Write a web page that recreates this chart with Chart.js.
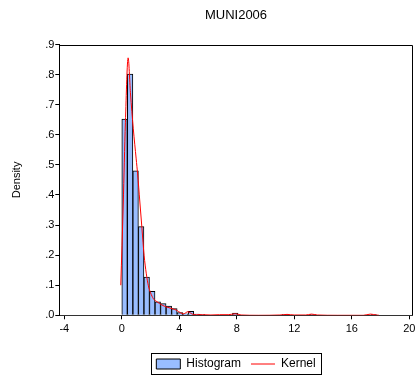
<!DOCTYPE html>
<html><head><meta charset="utf-8">
<script src="https://cdn.jsdelivr.net/npm/chart.js@4/dist/chart.umd.min.js"></script>
<style>html,body{margin:0;padding:0;background:#fff;overflow:hidden}#wrap{width:415px;height:381px;position:relative}</style>
</head><body><div id="wrap"><canvas id="c"></canvas></div>
<script>
const chartTitle = 'MUNI2006';
const yTitle = 'Density';
const seriesNames = ['Histogram', 'Kernel'];
// histogram: lower bin edges and densities
const binWidth = 0.385;
const binStarts = [0, 0.385, 0.77, 1.155, 1.54, 1.925, 2.31, 2.695, 3.08, 3.465, 3.85, 4.235, 4.62, 5.005, 5.39, 7.7, 11.165, 13.09, 17.325];
const binDensity = [0.652, 0.802, 0.48, 0.295, 0.127, 0.08, 0.045, 0.039, 0.031, 0.022, 0.009, 0.005, 0.013, 0.004, 0.002, 0.007, 0.002, 0.002, 0.002];
// kernel density curve
const kernelX = [-0.07, 0.1, 0.25, 0.44, 0.6, 0.8, 1.0, 1.1, 1.25, 1.4, 1.55, 1.7, 1.85, 2.0, 2.2, 2.45, 2.8, 3.1, 3.5, 3.8, 4.1, 4.3, 4.6, 4.9, 5.2, 5.6, 6.2, 6.8, 7.4, 7.9, 8.3, 9.5, 11.0, 11.5, 12.0, 12.8, 13.2, 13.6, 15.0, 16.8, 17.3, 17.7, 17.9];
const kernelY = [0.10, 0.37, 0.64, 0.856, 0.74, 0.62, 0.52, 0.47, 0.38, 0.29, 0.2, 0.14, 0.098, 0.075, 0.055, 0.045, 0.034, 0.028, 0.022, 0.017, 0.008, 0.005, 0.012, 0.004, 0.002, 0.002, 0.001, 0.002, 0.002, 0.005, 0.001, 0.0, 0.001, 0.003, 0.001, 0.001, 0.004, 0.001, 0.0, 0.0, 0.004, 0.001, 0.0];
const xTicks = [-4, 0, 4, 8, 12, 16, 20];
const yTicks = [0, 0.1, 0.2, 0.3, 0.4, 0.5, 0.6, 0.7, 0.8, 0.9];
const yTickLabels = ['.0', '.1', '.2', '.3', '.4', '.5', '.6', '.7', '.8', '.9'];

const FONT = 'Arial, "Liberation Sans", sans-serif';
const barFill = 'rgb(153,189,255)';

const framePlugin = {
  id: 'frame',
  afterDraw(chart) {
    const {ctx, chartArea: a} = chart;
    ctx.save();
    ctx.strokeStyle = '#000';
    ctx.lineWidth = 1;
    ctx.beginPath();
    ctx.moveTo(Math.round(a.left) + 0.5, Math.round(a.top) + 0.5);
    ctx.lineTo(Math.round(a.right) - 0.5, Math.round(a.top) + 0.5);
    ctx.lineTo(Math.round(a.right) - 0.5, Math.round(a.bottom));
    ctx.stroke();
    const lg = chart.legend;
    if (lg && lg.legendHitBoxes && lg.legendHitBoxes.length) {
      const hb = lg.legendHitBoxes;
      const l = hb[0].left - 5, r = hb[hb.length - 1].left + hb[hb.length - 1].width + 6;
      const t = hb[0].top - 5, b = hb[0].top + hb[0].height + 4;
      ctx.strokeStyle = '#000';
      ctx.strokeRect(Math.round(l) + 0.5, Math.round(t) + 0.5, Math.round(r - l), Math.round(b - t));
    }
    ctx.restore();
  }
};

new Chart(document.getElementById('c'), {
  type: 'bar',
  data: {
    datasets: [
      {
        type: 'line',
        label: seriesNames[1],
        data: kernelX.map((x, i) => ({x, y: kernelY[i]})),
        borderColor: '#ff0000',
        borderWidth: 1,
        pointRadius: 0,
        cubicInterpolationMode: 'monotone',
        fill: false,
        order: 0
      },
      {
        type: 'bar',
        label: seriesNames[0],
        data: binStarts.map((s, i) => ({x: s + binWidth / 2, y: binDensity[i]})),
        backgroundColor: barFill,
        borderColor: '#000',
        borderWidth: 1,
        borderSkipped: 'start',
        barPercentage: 1,
        categoryPercentage: 1,
        order: 1
      }
    ]
  },
  options: {
    responsive: true,
    maintainAspectRatio: false,
    animation: false,
    events: [],
    layout: {padding: {left: 0, right: 2.3, top: 0, bottom: 1}},
    plugins: {
      tooltip: {enabled: false},
      title: {
        display: true, text: chartTitle, fullSize: false, color: '#000',
        font: {family: FONT, size: 13, weight: 'normal'},
        padding: {top: 8, bottom: 21}
      },
      legend: {
        display: true, position: 'bottom', fullSize: false, align: 'center',
        labels: {
          color: '#000', font: {family: FONT, size: 12}, padding: 10,
          usePointStyle: true, pointStyleWidth: 24, boxHeight: 10,
          generateLabels: () => [
            {text: seriesNames[0], fillStyle: barFill, strokeStyle: '#000', lineWidth: 1, pointStyle: 'rect', hidden: false, datasetIndex: 1, fontColor: '#000'},
            {text: seriesNames[1], fillStyle: '#ff0000', strokeStyle: '#ff0000', lineWidth: 1, pointStyle: 'line', hidden: false, datasetIndex: 0, fontColor: '#000'}
          ]
        }
      }
    },
    scales: {
      x: {
        type: 'linear', min: -4.348, max: 20.237, offset: false,
        grid: {display: true, drawOnChartArea: false, drawTicks: true, tickLength: 4, color: '#000', offset: false},
        border: {display: true, color: '#333', width: 1},
        ticks: {color: '#000', font: {family: FONT, size: 11}, padding: 3, maxRotation: 0, autoSkip: false},
        afterBuildTicks: (s) => { s.ticks = xTicks.map(v => ({value: v})); },
        afterFit: (s) => { s.height = 32.7; s.paddingLeft = 0; s.paddingRight = 0; }
      },
      y: {
        type: 'linear', min: 0, max: 0.9,
        grid: {display: true, drawOnChartArea: false, drawTicks: true, tickLength: 4, color: '#000'},
        border: {display: true, color: '#000', width: 1},
        title: {display: true, text: yTitle, color: '#000', font: {family: FONT, size: 11}, padding: {top: 10, bottom: 0}},
        ticks: {color: '#000', font: {family: FONT, size: 11}, padding: 1,
          callback: (v, i) => yTickLabels[i]},
        afterBuildTicks: (s) => { s.ticks = yTicks.map(v => ({value: v})); },
        afterFit: (s) => { s.width = 59.3; s.paddingTop = 0; s.paddingBottom = 0; }
      }
    }
  },
  plugins: [framePlugin]
});
</script></body></html>
